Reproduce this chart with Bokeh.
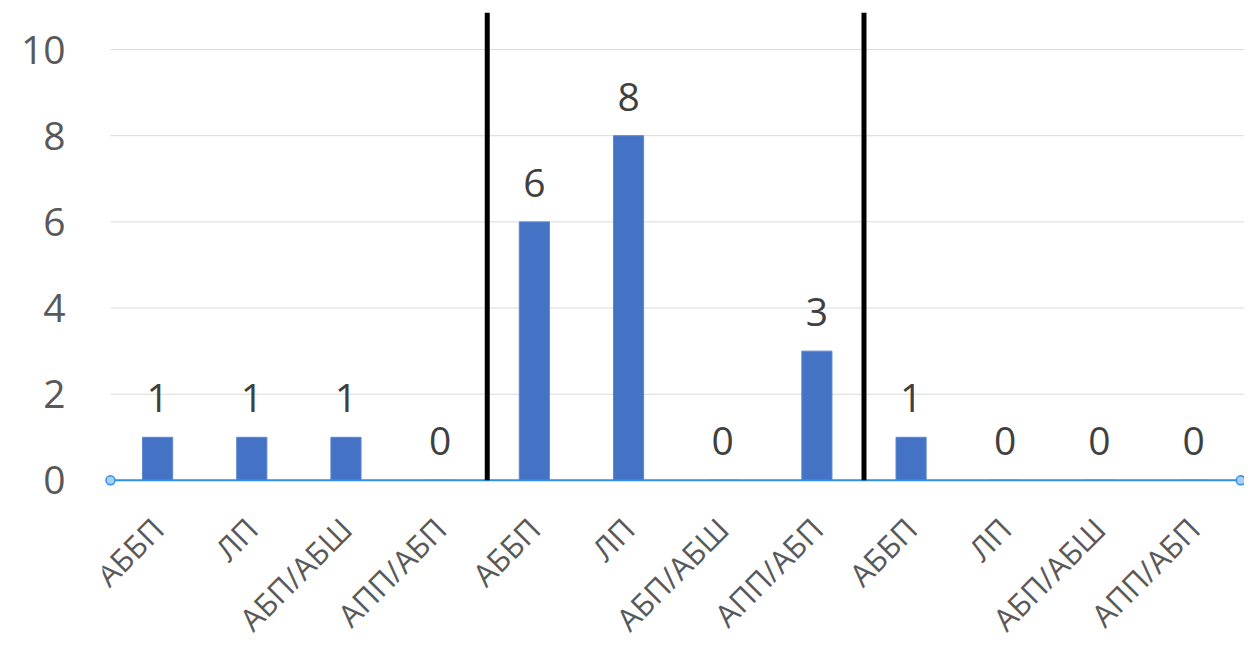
import math
from bokeh.plotting import figure
from bokeh.models import FixedTicker, Range1d
from bokeh.core.properties import value
from bokeh.embed import file_html
from bokeh.resources import INLINE

groups = 3
categories = ["АББП", "ЛП", "АБП/АБШ", "АПП/АБП",
              "АББП", "ЛП", "АБП/АБШ", "АПП/АБП",
              "АББП", "ЛП", "АБП/АБШ", "АПП/АБП"]
values = [1, 1, 1, 0, 6, 8, 0, 3, 1, 0, 0, 0]
y_ticks = [0, 2, 4, 6, 8, 10]

n = len(values)
xs = [i + 0.5 for i in range(n)]
per_group = n // groups
boundaries = [per_group * g for g in range(1, groups)]
y_top = 10.86
y_bottom = -3.74  # room for the rotated category labels

FONT = value("Open Sans")

p = figure(width=1244, height=641, output_backend="svg", toolbar_location=None,
           x_range=Range1d(-0.085, n + 0.04), y_range=Range1d(y_bottom, y_top),
           min_border_left=102, min_border_right=0, min_border_top=12,
           min_border_bottom=0)
p.outline_line_color = None
p.xgrid.visible = False
p.ygrid.visible = False
p.xaxis.visible = False

# gridlines
p.segment(x0=[0] * len(y_ticks), y0=y_ticks, x1=[n + 0.04] * len(y_ticks), y1=y_ticks,
          line_color="#D9D9D9", line_width=1)

# bars
p.vbar(x=xs, top=values, bottom=0, width=0.32, fill_color="#4472C4",
       line_color="#5B86D0", line_width=1)

# zero axis line (selected look)
p.segment(x0=[0], y0=[0], x1=[n], y1=[0], line_color="#2E90E8", line_width=2)

# group separators
p.segment(x0=boundaries, y0=[0] * len(boundaries), x1=boundaries,
          y1=[y_top] * len(boundaries), line_color="black", line_width=5)

p.scatter(x=[0, n], y=[0, 0], size=9, fill_color="#A9CFF5",
          line_color="#2E90E8", line_width=1.5)

# data labels
p.text(x=xs, y=values, text=[str(v) for v in values], text_align="center",
       text_baseline="alphabetic", y_offset=-39, text_font_size="39px",
       text_color="#404040", text_font=FONT)

# category labels (rotated 45 degrees)
p.text(x=xs, y=[0] * n, text=categories, angle=math.pi / 4,
       text_align="right", text_baseline="middle", x_offset=0, y_offset=43,
       text_font_size="31px", text_color="#595959", text_font=FONT)

# y axis
p.yaxis.ticker = FixedTicker(ticks=y_ticks)
p.yaxis.major_label_text_font_size = "39px"
p.yaxis.major_label_text_color = "#595959"
p.yaxis.major_label_text_font = "Open Sans"
p.yaxis.major_label_standoff = 37
p.yaxis.axis_line_color = None
p.yaxis.major_tick_line_color = None
p.yaxis.minor_tick_line_color = None
p.yaxis.major_tick_out = 0
p.yaxis.major_tick_in = 0

open("out.html", "w").write(file_html(p, INLINE))
